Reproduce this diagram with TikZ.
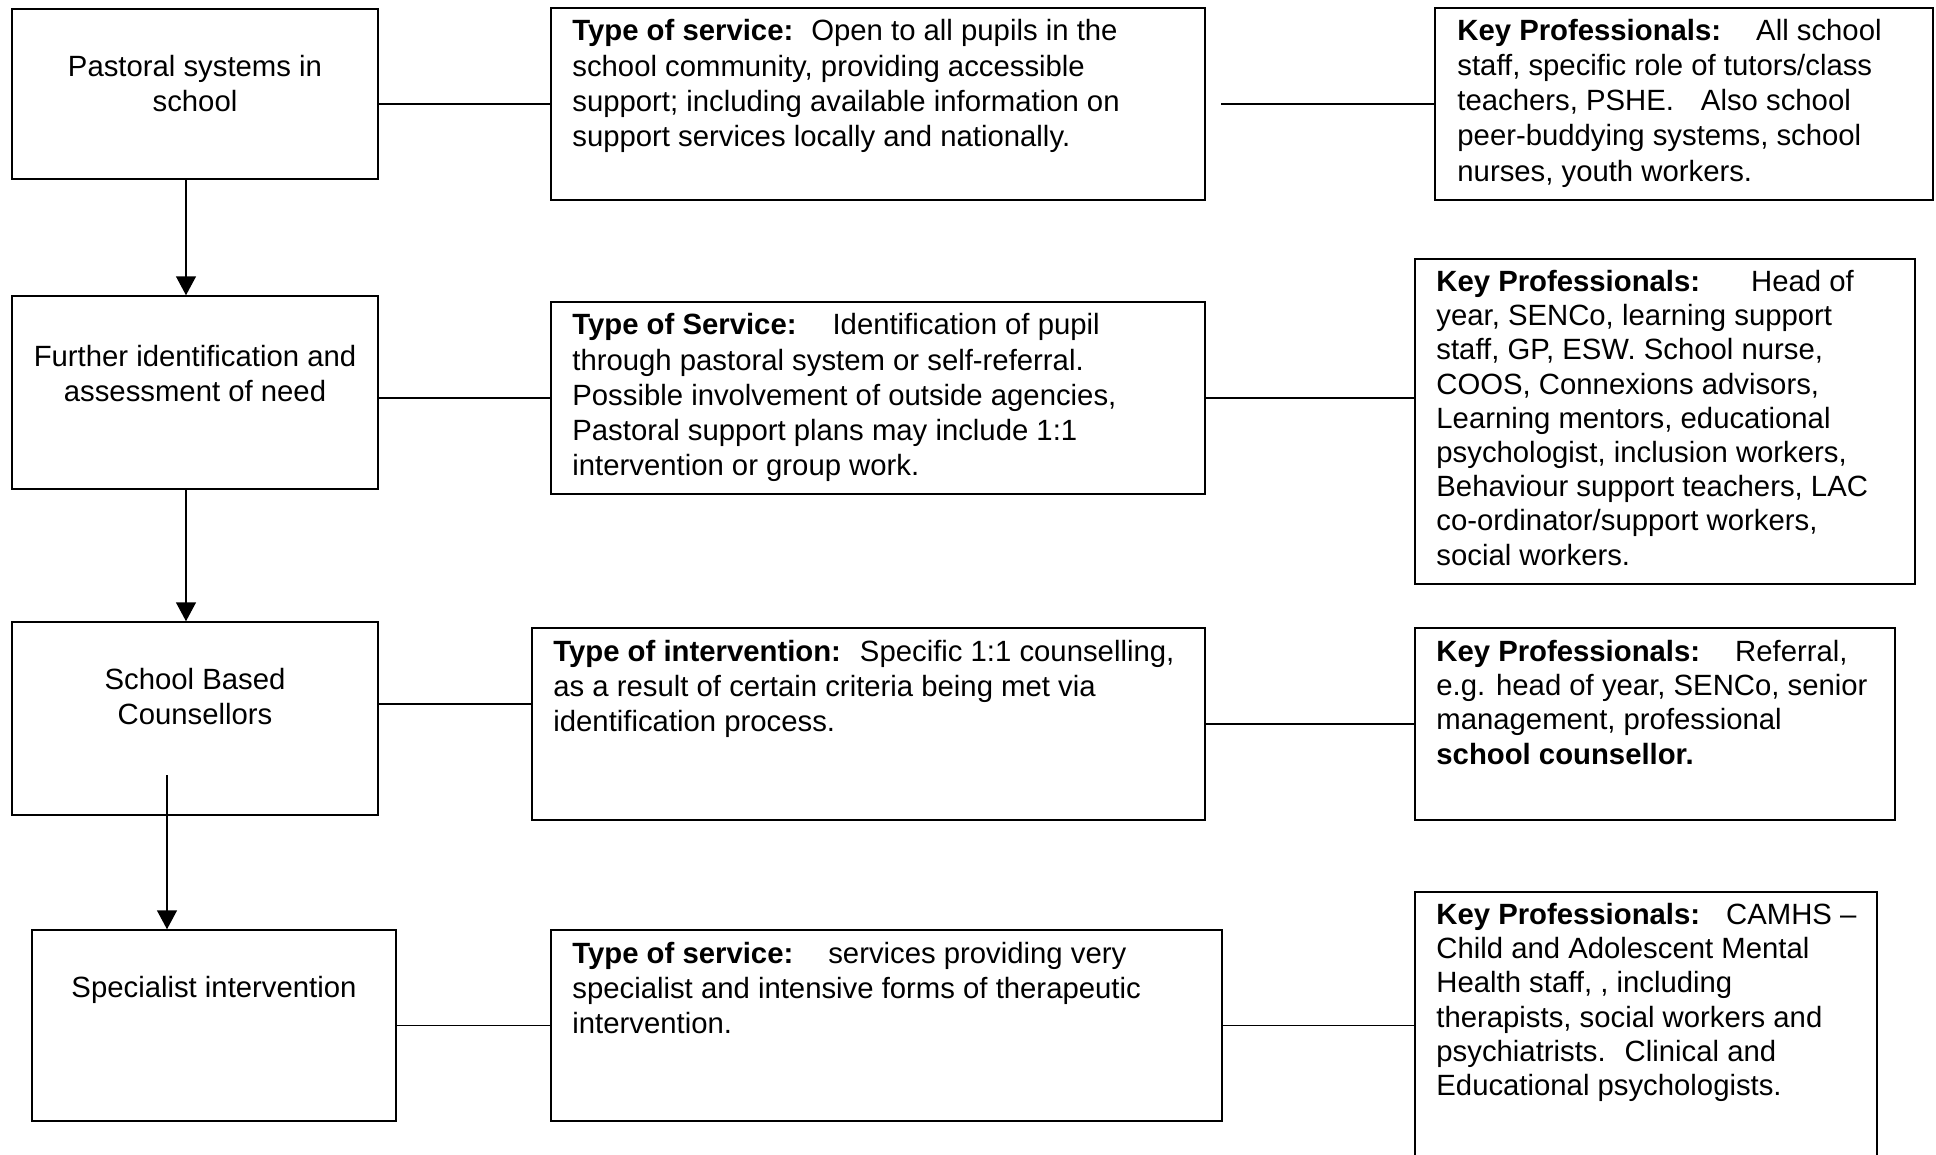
\documentclass[tikz,border=0pt]{standalone}
\usepackage{fontspec}
\setmainfont{Liberation Sans}
\usetikzlibrary{fit,arrows.meta}
\newlength\px
\setlength\px{0.5pt}
\newcommand\gp[1]{\hspace{#1\px}}
\newcommand\tstrut{\rule{0pt}{12pt}}
\begin{document}
\begin{tikzpicture}[x=0.5pt,y=-0.5pt,
  box/.style={draw=black,line width=0.75pt,inner sep=0pt},
  txt/.style={inner sep=0pt,align=left,anchor=north west,font=\fontsize{14.65pt}{17.6pt}\selectfont},
  txtd/.style={inner sep=0pt,align=left,anchor=north west,font=\fontsize{14.65pt}{17.1pt}\selectfont},
  ctxt/.style={inner sep=0pt,align=center,anchor=north,font=\fontsize{14.65pt}{17.5pt}\selectfont},
  conn/.style={draw=black,line width=0.75pt},
  arr/.style={draw=black,line width=0.75pt,-{Triangle[width=10pt,length=9.5pt]}}]
\useasboundingbox (0,0) rectangle (1936,1155);
\clip (0,0) rectangle (1936,1155);
\fill[white] (0,0) rectangle (1936,1155);

% left column
\node[box,fit={(12,9) (378,179)}] (A1) {};
\node[box,fit={(12,296) (378,489)}] (A2) {};
\node[box,fit={(12,622) (378,815)}] (A3) {};
\node[box,fit={(32,930) (396,1121)}] (A4) {};
% middle column
\node[box,fit={(551,8) (1205,200)}] (B1) {};
\node[box,fit={(551,302) (1205,494)}] (B2) {};
\node[box,fit={(532,628) (1205,820)}] (B3) {};
\node[box,fit={(551,930) (1222,1121)}] (B4) {};
% right column
\node[box,fit={(1435,8) (1933,200)}] (C1) {};
\node[box,fit={(1415,259) (1915,584)}] (C2) {};
\node[box,fit={(1415,628) (1895,820)}] (C3) {};
\node[box,fit={(1415,892) (1877,1180)}] (C4) {};

% texts left
\node[ctxt] (A1t) at (195,52) {\tstrut Pastoral systems in\\school};
\node[ctxt] (A2t) at (195,342) {\tstrut Further identification and\\assessment of need};
\node[ctxt] (A3t) at (195,665) {\tstrut School Based\\Counsellors};
\node[ctxt] (A4t) at (214,973) {\tstrut Specialist intervention};

% texts middle
\node[txt] (B1t) at (572,16.5) {\tstrut\textbf{Type of service:}\gp{18}Open to all pupils in the\\school community, providing accessible\\support; including available information on\\support services locally and nationally.};
\node[txt] (B2t) at (572,310.5) {\tstrut\textbf{Type of Service:}\gp{36}Identification of pupil\\through pastoral system or self-referral.\\Possible involvement of outside agencies,\\Pastoral support plans may include 1:1\\intervention or group work.};
\node[txt] (B3t) at (553,637) {\tstrut\textbf{Type of intervention:}\gp{19}Specific 1:1 counselling,\\as a result of certain criteria being met via\\identification process.};
\node[txt] (B4t) at (572,939) {\tstrut\textbf{Type of service:}\gp{35}services providing very\\specialist and intensive forms of therapeutic\\intervention.};

% texts right
\node[txt] (C1t) at (1457,16) {\tstrut\textbf{Key Professionals:}\gp{35}All school\\staff, specific role of tutors/class\\teachers, PSHE.\gp{27}Also school\\peer-buddying systems, school\\nurses, youth workers.};
\node[txtd] (C2t) at (1436,267) {\tstrut\textbf{Key Professionals:}\gp{51}Head of\\year, SENCo, learning support\\staff, GP, ESW. School nurse,\\COOS, Connexions advisors,\\Learning mentors, educational\\psychologist, inclusion workers,\\Behaviour support teachers, LAC\\co-ordinator/support workers,\\social workers.};
\node[txtd] (C3t) at (1436,637) {\tstrut\textbf{Key Professionals:}\gp{35}Referral,\\e.g. head of year, SENCo, senior\\management, professional\\\textbf{school counsellor.}};
\node[txtd] (C4t) at (1436,900) {\tstrut\textbf{Key Professionals:}\gp{26}CAMHS –\\Child and Adolescent Mental\\Health staff, , including\\therapists, social workers and\\psychiatrists.\gp{19}Clinical and\\Educational psychologists.};

% horizontal connectors
\coordinate (g1) at (1221,104);
\coordinate (j3) at (0,704);
\draw[conn] (A1.east |- B1.west) -- (B1.west);
\draw[conn] (g1) -- (g1 -| C1.west);
\draw[conn] (A2.east |- B2.west) -- (B2.west);
\draw[conn] (B2.east) -- (B2.east -| C2.west);
\draw[conn] (A3.east |- j3) -- (j3 -| B3.west);
\draw[conn] (B3.east) -- (B3.east -| C3.west);
\draw[conn] (A4.east) -- (A4.east -| B4.west);
\draw[conn] (B4.east) -- (B4.east -| C4.west);

% vertical arrows
\coordinate (ax) at (186,0);
\coordinate (as) at (167,775);
\draw[arr] (A1.south -| ax) -- (A2.north -| ax);
\draw[arr] (A2.south -| ax) -- (A3.north -| ax);
\draw[arr] (as) -- (as |- A4.north);
\end{tikzpicture}
\end{document}
